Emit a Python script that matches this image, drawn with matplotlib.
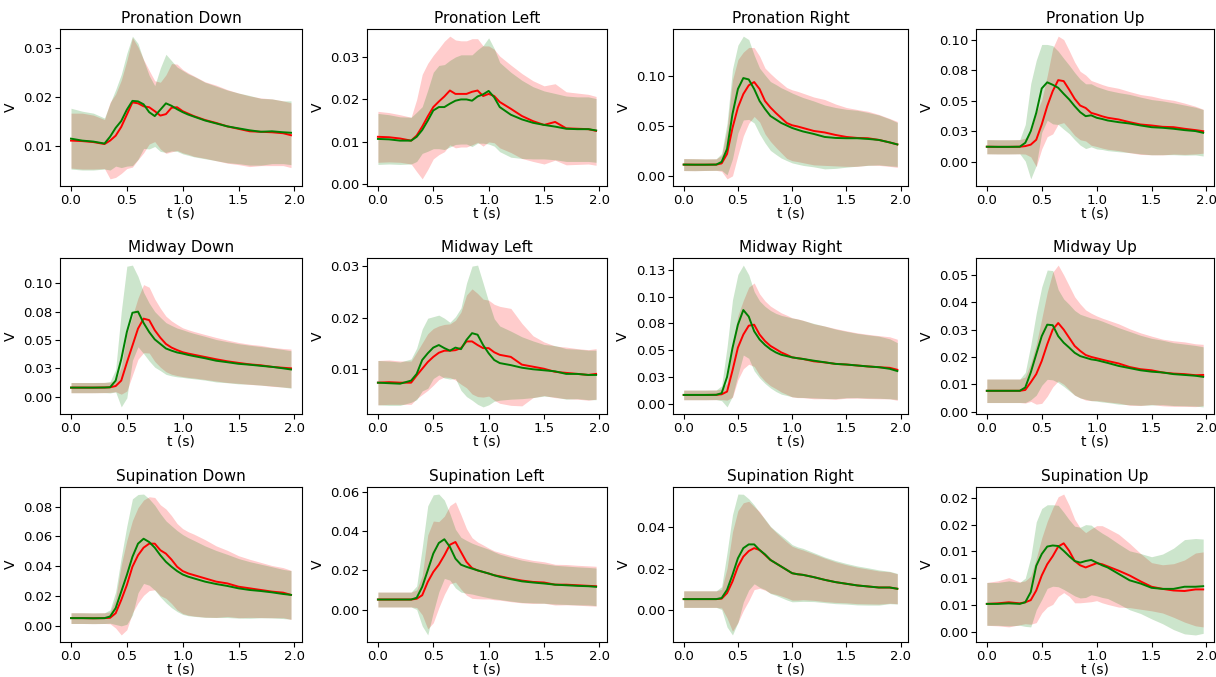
import numpy as np
import matplotlib
matplotlib.use("Agg")
import matplotlib.pyplot as plt
from matplotlib.ticker import FormatStrFormatter, MaxNLocator

# time grid (s) at which the curves were read
t = np.array([0.0, 0.1, 0.2, 0.3, 0.35, 0.4, 0.45, 0.5, 0.55, 0.6, 0.65, 0.7, 0.75, 0.8,
              0.85, 0.9, 0.95, 1.0, 1.05, 1.1, 1.2, 1.3, 1.4, 1.5, 1.6, 1.7, 1.8, 1.9, 1.97])

titles = ["Pronation Down", "Pronation Left", "Pronation Right", "Pronation Up",
          "Midway Down", "Midway Left", "Midway Right", "Midway Up",
          "Supination Down", "Supination Left", "Supination Right", "Supination Up"]

# --- Pronation Down
pd_red_m = [0.0112, 0.0111, 0.0109, 0.0105, 0.0112, 0.0122, 0.0140, 0.0165, 0.0190, 0.0188, 0.0182, 0.0180, 0.0172, 0.0163, 0.0166, 0.0179, 0.0180, 0.0172, 0.0167, 0.0162, 0.0154, 0.0148, 0.0141, 0.0136, 0.0131, 0.0130, 0.0129, 0.0127, 0.0123]
pd_red_s = [0.0056, 0.0057, 0.0055, 0.0050, 0.0078, 0.0085, 0.0095, 0.0110, 0.0132, 0.0115, 0.0095, 0.0075, 0.0062, 0.0068, 0.0080, 0.0090, 0.0088, 0.0085, 0.0083, 0.0082, 0.0078, 0.0077, 0.0075, 0.0073, 0.0072, 0.0069, 0.0068, 0.0066, 0.0066]
pd_grn_m = [0.0116, 0.0112, 0.0110, 0.0106, 0.0120, 0.0138, 0.0152, 0.0175, 0.0193, 0.0192, 0.0186, 0.0170, 0.0162, 0.0175, 0.0188, 0.0183, 0.0176, 0.0170, 0.0165, 0.0161, 0.0153, 0.0147, 0.0141, 0.0137, 0.0133, 0.0130, 0.0131, 0.0129, 0.0128]
pd_grn_s = [0.0062, 0.0060, 0.0058, 0.0052, 0.0068, 0.0078, 0.0095, 0.0115, 0.0132, 0.0118, 0.0090, 0.0075, 0.0062, 0.0085, 0.0100, 0.0092, 0.0086, 0.0085, 0.0083, 0.0082, 0.0078, 0.0076, 0.0074, 0.0072, 0.0071, 0.0068, 0.0066, 0.0064, 0.0065]

# --- Pronation Left
pl_red_m = [0.0112, 0.0111, 0.0108, 0.0103, 0.0115, 0.0136, 0.0160, 0.0182, 0.0195, 0.0207, 0.0221, 0.0213, 0.0213, 0.0213, 0.0218, 0.0221, 0.0208, 0.0213, 0.0208, 0.0194, 0.0178, 0.0161, 0.0149, 0.0140, 0.0147, 0.0132, 0.0131, 0.0130, 0.0126]
pl_red_s = [0.0060, 0.0058, 0.0056, 0.0055, 0.0085, 0.0123, 0.0125, 0.0122, 0.0125, 0.0130, 0.0128, 0.0127, 0.0125, 0.0125, 0.0125, 0.0122, 0.0118, 0.0113, 0.0110, 0.0108, 0.0103, 0.0100, 0.0095, 0.0092, 0.0090, 0.0086, 0.0084, 0.0082, 0.0081]
pl_grn_m = [0.0107, 0.0106, 0.0103, 0.0103, 0.0112, 0.0128, 0.0150, 0.0174, 0.0182, 0.0182, 0.0190, 0.0197, 0.0200, 0.0200, 0.0197, 0.0207, 0.0212, 0.0220, 0.0205, 0.0182, 0.0164, 0.0153, 0.0145, 0.0140, 0.0136, 0.0131, 0.0130, 0.0130, 0.0127]
pl_grn_s = [0.0060, 0.0058, 0.0056, 0.0055, 0.0058, 0.0055, 0.0072, 0.0090, 0.0098, 0.0100, 0.0102, 0.0103, 0.0105, 0.0105, 0.0108, 0.0110, 0.0115, 0.0125, 0.0115, 0.0105, 0.0100, 0.0092, 0.0085, 0.0080, 0.0078, 0.0077, 0.0076, 0.0076, 0.0075]

# --- Pronation Right
pr_red_m = [0.0113, 0.0112, 0.0112, 0.0113, 0.0125, 0.0220, 0.0480, 0.0685, 0.0820, 0.0907, 0.0940, 0.0870, 0.0750, 0.0685, 0.0630, 0.0580, 0.0530, 0.0507, 0.0495, 0.0480, 0.0450, 0.0435, 0.0410, 0.0390, 0.0380, 0.0377, 0.0360, 0.0335, 0.0315]
pr_red_s = [0.0060, 0.0060, 0.0058, 0.0058, 0.0080, 0.0250, 0.0480, 0.0480, 0.0420, 0.0380, 0.0345, 0.0330, 0.0330, 0.0340, 0.0345, 0.0350, 0.0355, 0.0355, 0.0352, 0.0348, 0.0340, 0.0330, 0.0310, 0.0295, 0.0285, 0.0270, 0.0255, 0.0240, 0.0230]
pr_grn_m = [0.0113, 0.0112, 0.0112, 0.0113, 0.0140, 0.0270, 0.0620, 0.0870, 0.0980, 0.0966, 0.0870, 0.0750, 0.0670, 0.0600, 0.0565, 0.0530, 0.0505, 0.0480, 0.0462, 0.0445, 0.0420, 0.0390, 0.0380, 0.0377, 0.0377, 0.0370, 0.0360, 0.0335, 0.0315]
pr_grn_s = [0.0060, 0.0060, 0.0058, 0.0058, 0.0085, 0.0260, 0.0450, 0.0440, 0.0420, 0.0400, 0.0340, 0.0330, 0.0340, 0.0345, 0.0350, 0.0352, 0.0352, 0.0350, 0.0345, 0.0340, 0.0330, 0.0320, 0.0305, 0.0290, 0.0280, 0.0265, 0.0250, 0.0235, 0.0220]

# --- Pronation Up
pu_red_m = [0.0123, 0.0122, 0.0122, 0.0123, 0.0128, 0.0140, 0.0180, 0.0305, 0.0455, 0.0578, 0.0668, 0.0660, 0.0590, 0.0515, 0.0460, 0.0440, 0.0400, 0.0387, 0.0372, 0.0360, 0.0346, 0.0324, 0.0305, 0.0297, 0.0286, 0.0283, 0.0270, 0.0259, 0.0250]
pu_red_s = [0.0058, 0.0058, 0.0058, 0.0058, 0.0065, 0.0100, 0.0220, 0.0200, 0.0250, 0.0350, 0.0360, 0.0340, 0.0320, 0.0300, 0.0280, 0.0270, 0.0265, 0.0262, 0.0260, 0.0258, 0.0255, 0.0250, 0.0245, 0.0240, 0.0230, 0.0220, 0.0210, 0.0195, 0.0180]
pu_grn_m = [0.0123, 0.0122, 0.0122, 0.0123, 0.0155, 0.0250, 0.0400, 0.0600, 0.0650, 0.0630, 0.0605, 0.0556, 0.0510, 0.0455, 0.0406, 0.0373, 0.0380, 0.0360, 0.0350, 0.0338, 0.0324, 0.0313, 0.0297, 0.0283, 0.0278, 0.0270, 0.0259, 0.0251, 0.0237]
pu_grn_s = [0.0058, 0.0058, 0.0058, 0.0058, 0.0150, 0.0390, 0.0430, 0.0360, 0.0310, 0.0320, 0.0300, 0.0290, 0.0280, 0.0275, 0.0270, 0.0265, 0.0258, 0.0255, 0.0250, 0.0247, 0.0242, 0.0238, 0.0232, 0.0226, 0.0220, 0.0212, 0.0205, 0.0195, 0.0190]

# --- Midway Down
md_red_m = [0.0080, 0.0080, 0.0080, 0.0081, 0.0083, 0.0094, 0.0142, 0.0300, 0.0450, 0.0600, 0.0688, 0.0675, 0.0586, 0.0520, 0.0465, 0.0433, 0.0411, 0.0392, 0.0380, 0.0370, 0.0350, 0.0330, 0.0312, 0.0298, 0.0285, 0.0277, 0.0263, 0.0255, 0.0250]
md_red_s = [0.0045, 0.0045, 0.0045, 0.0045, 0.0045, 0.0050, 0.0120, 0.0250, 0.0260, 0.0270, 0.0300, 0.0290, 0.0275, 0.0260, 0.0245, 0.0235, 0.0225, 0.0215, 0.0210, 0.0205, 0.0198, 0.0192, 0.0187, 0.0180, 0.0177, 0.0175, 0.0172, 0.0170, 0.0170]
md_grn_m = [0.0080, 0.0080, 0.0080, 0.0081, 0.0083, 0.0142, 0.0330, 0.0570, 0.0740, 0.0750, 0.0650, 0.0570, 0.0505, 0.0465, 0.0425, 0.0406, 0.0390, 0.0380, 0.0368, 0.0358, 0.0339, 0.0317, 0.0304, 0.0290, 0.0282, 0.0272, 0.0263, 0.0250, 0.0240]
md_grn_s = [0.0045, 0.0045, 0.0045, 0.0045, 0.0050, 0.0100, 0.0420, 0.0580, 0.0420, 0.0310, 0.0270, 0.0255, 0.0245, 0.0235, 0.0228, 0.0222, 0.0215, 0.0210, 0.0205, 0.0200, 0.0193, 0.0187, 0.0181, 0.0177, 0.0172, 0.0170, 0.0168, 0.0166, 0.0165]

# --- Midway Left
ml_red_m = [0.0074, 0.0075, 0.0074, 0.0074, 0.0088, 0.0101, 0.0114, 0.0124, 0.0132, 0.0136, 0.0136, 0.0137, 0.0141, 0.0154, 0.0154, 0.0147, 0.0141, 0.0141, 0.0133, 0.0128, 0.0124, 0.0109, 0.0105, 0.0101, 0.0095, 0.0093, 0.0091, 0.0089, 0.0091]
ml_red_s = [0.0043, 0.0043, 0.0042, 0.0042, 0.0045, 0.0050, 0.0055, 0.0055, 0.0052, 0.0051, 0.0052, 0.0058, 0.0070, 0.0090, 0.0102, 0.0100, 0.0095, 0.0093, 0.0093, 0.0094, 0.0094, 0.0080, 0.0060, 0.0052, 0.0050, 0.0050, 0.0049, 0.0049, 0.0049]
ml_grn_m = [0.0074, 0.0073, 0.0072, 0.0078, 0.0091, 0.0118, 0.0131, 0.0142, 0.0147, 0.0141, 0.0136, 0.0142, 0.0139, 0.0157, 0.0170, 0.0167, 0.0147, 0.0131, 0.0118, 0.0112, 0.0108, 0.0103, 0.0100, 0.0098, 0.0096, 0.0091, 0.0091, 0.0089, 0.0089]
ml_grn_s = [0.0043, 0.0043, 0.0042, 0.0042, 0.0050, 0.0060, 0.0068, 0.0060, 0.0058, 0.0058, 0.0055, 0.0060, 0.0080, 0.0110, 0.0130, 0.0135, 0.0120, 0.0100, 0.0080, 0.0072, 0.0066, 0.0060, 0.0055, 0.0050, 0.0050, 0.0049, 0.0048, 0.0048, 0.0048]

# --- Midway Right
mr_red_m = [0.0082, 0.0082, 0.0082, 0.0083, 0.0088, 0.0113, 0.0310, 0.0524, 0.0646, 0.0729, 0.0738, 0.0646, 0.0585, 0.0540, 0.0510, 0.0479, 0.0457, 0.0433, 0.0425, 0.0418, 0.0396, 0.0386, 0.0372, 0.0366, 0.0357, 0.0348, 0.0341, 0.0335, 0.0317]
mr_red_s = [0.0045, 0.0045, 0.0045, 0.0045, 0.0050, 0.0080, 0.0250, 0.0300, 0.0320, 0.0360, 0.0390, 0.0380, 0.0375, 0.0372, 0.0370, 0.0370, 0.0370, 0.0370, 0.0368, 0.0362, 0.0350, 0.0340, 0.0330, 0.0315, 0.0305, 0.0300, 0.0295, 0.0290, 0.0285]
mr_grn_m = [0.0082, 0.0082, 0.0082, 0.0083, 0.0098, 0.0250, 0.0520, 0.0738, 0.0875, 0.0814, 0.0677, 0.0600, 0.0549, 0.0509, 0.0479, 0.0457, 0.0445, 0.0433, 0.0425, 0.0418, 0.0402, 0.0387, 0.0372, 0.0366, 0.0357, 0.0348, 0.0341, 0.0326, 0.0305]
mr_grn_s = [0.0045, 0.0045, 0.0045, 0.0045, 0.0070, 0.0280, 0.0450, 0.0470, 0.0420, 0.0390, 0.0370, 0.0360, 0.0360, 0.0362, 0.0365, 0.0368, 0.0368, 0.0368, 0.0366, 0.0360, 0.0348, 0.0338, 0.0325, 0.0310, 0.0300, 0.0295, 0.0290, 0.0280, 0.0265]

# --- Midway Up
mu_red_m = [0.0076, 0.0076, 0.0076, 0.0076, 0.0079, 0.0107, 0.0137, 0.0185, 0.0246, 0.0300, 0.0324, 0.0300, 0.0270, 0.0240, 0.0222, 0.0207, 0.0200, 0.0195, 0.0190, 0.0185, 0.0176, 0.0163, 0.0155, 0.0151, 0.0143, 0.0139, 0.0137, 0.0133, 0.0134]
mu_red_s = [0.0043, 0.0043, 0.0043, 0.0043, 0.0048, 0.0070, 0.0110, 0.0155, 0.0190, 0.0210, 0.0212, 0.0200, 0.0190, 0.0180, 0.0172, 0.0165, 0.0160, 0.0155, 0.0152, 0.0150, 0.0145, 0.0140, 0.0133, 0.0125, 0.0122, 0.0120, 0.0118, 0.0115, 0.0112]
mu_grn_m = [0.0076, 0.0076, 0.0076, 0.0076, 0.0088, 0.0143, 0.0210, 0.0276, 0.0318, 0.0316, 0.0276, 0.0252, 0.0234, 0.0215, 0.0203, 0.0197, 0.0191, 0.0188, 0.0183, 0.0178, 0.0167, 0.0159, 0.0151, 0.0146, 0.0143, 0.0137, 0.0134, 0.0131, 0.0127]
mu_grn_s = [0.0043, 0.0043, 0.0043, 0.0043, 0.0055, 0.0100, 0.0150, 0.0180, 0.0200, 0.0200, 0.0170, 0.0160, 0.0158, 0.0155, 0.0153, 0.0152, 0.0151, 0.0150, 0.0148, 0.0145, 0.0140, 0.0134, 0.0128, 0.0122, 0.0118, 0.0115, 0.0113, 0.0111, 0.0110]

# --- Supination Down
sd_red_m = [0.0051, 0.0051, 0.0050, 0.0051, 0.0053, 0.0084, 0.0173, 0.0273, 0.0396, 0.0473, 0.0524, 0.0551, 0.0551, 0.0507, 0.0484, 0.0444, 0.0396, 0.0367, 0.0351, 0.0340, 0.0318, 0.0296, 0.0284, 0.0262, 0.0251, 0.0240, 0.0229, 0.0222, 0.0207]
sd_red_s = [0.0036, 0.0036, 0.0036, 0.0036, 0.0040, 0.0100, 0.0235, 0.0300, 0.0310, 0.0320, 0.0320, 0.0315, 0.0310, 0.0305, 0.0300, 0.0295, 0.0290, 0.0285, 0.0280, 0.0275, 0.0260, 0.0240, 0.0222, 0.0208, 0.0195, 0.0185, 0.0175, 0.0168, 0.0165]
sd_grn_m = [0.0051, 0.0051, 0.0050, 0.0051, 0.0062, 0.0118, 0.0229, 0.0340, 0.0462, 0.0551, 0.0584, 0.0562, 0.0524, 0.0473, 0.0429, 0.0396, 0.0367, 0.0344, 0.0329, 0.0318, 0.0296, 0.0280, 0.0267, 0.0251, 0.0240, 0.0233, 0.0224, 0.0213, 0.0207]
sd_grn_s = [0.0036, 0.0036, 0.0036, 0.0036, 0.0045, 0.0110, 0.0230, 0.0330, 0.0390, 0.0330, 0.0300, 0.0290, 0.0285, 0.0280, 0.0275, 0.0275, 0.0272, 0.0268, 0.0262, 0.0255, 0.0240, 0.0225, 0.0212, 0.0200, 0.0190, 0.0180, 0.0172, 0.0165, 0.0163]

# --- Supination Left
sl_red_m = [0.0051, 0.0051, 0.0051, 0.0051, 0.0055, 0.0073, 0.0141, 0.0192, 0.0229, 0.0277, 0.0331, 0.0345, 0.0294, 0.0243, 0.0212, 0.0200, 0.0192, 0.0184, 0.0175, 0.0170, 0.0158, 0.0148, 0.0141, 0.0138, 0.0127, 0.0127, 0.0124, 0.0121, 0.0119]
sl_red_s = [0.0038, 0.0038, 0.0038, 0.0038, 0.0045, 0.0100, 0.0240, 0.0260, 0.0220, 0.0200, 0.0200, 0.0205, 0.0190, 0.0170, 0.0155, 0.0145, 0.0138, 0.0130, 0.0125, 0.0122, 0.0118, 0.0114, 0.0110, 0.0106, 0.0104, 0.0103, 0.0102, 0.0102, 0.0102]
sl_grn_m = [0.0051, 0.0051, 0.0051, 0.0051, 0.0060, 0.0116, 0.0200, 0.0286, 0.0340, 0.0359, 0.0320, 0.0260, 0.0229, 0.0218, 0.0209, 0.0200, 0.0192, 0.0184, 0.0175, 0.0167, 0.0155, 0.0144, 0.0138, 0.0133, 0.0127, 0.0124, 0.0121, 0.0119, 0.0116]
sl_grn_s = [0.0038, 0.0038, 0.0038, 0.0038, 0.0060, 0.0200, 0.0330, 0.0300, 0.0250, 0.0200, 0.0170, 0.0150, 0.0140, 0.0135, 0.0130, 0.0128, 0.0126, 0.0124, 0.0120, 0.0116, 0.0112, 0.0108, 0.0104, 0.0101, 0.0099, 0.0098, 0.0097, 0.0096, 0.0096]

# --- Supination Right
sr_red_m = [0.0054, 0.0054, 0.0054, 0.0054, 0.0056, 0.0083, 0.0139, 0.0211, 0.0259, 0.0286, 0.0300, 0.0291, 0.0267, 0.0243, 0.0227, 0.0211, 0.0195, 0.0179, 0.0174, 0.0171, 0.0160, 0.0147, 0.0136, 0.0128, 0.0120, 0.0115, 0.0110, 0.0110, 0.0104]
sr_red_s = [0.0040, 0.0040, 0.0040, 0.0040, 0.0045, 0.0120, 0.0240, 0.0270, 0.0260, 0.0240, 0.0200, 0.0185, 0.0170, 0.0160, 0.0150, 0.0142, 0.0135, 0.0130, 0.0125, 0.0120, 0.0112, 0.0105, 0.0098, 0.0092, 0.0088, 0.0084, 0.0080, 0.0076, 0.0072]
sr_grn_m = [0.0054, 0.0054, 0.0054, 0.0054, 0.0059, 0.0099, 0.0171, 0.0251, 0.0300, 0.0318, 0.0318, 0.0291, 0.0270, 0.0243, 0.0227, 0.0211, 0.0195, 0.0179, 0.0174, 0.0171, 0.0160, 0.0147, 0.0136, 0.0128, 0.0120, 0.0115, 0.0110, 0.0110, 0.0104]
sr_grn_s = [0.0040, 0.0040, 0.0040, 0.0040, 0.0055, 0.0180, 0.0290, 0.0310, 0.0260, 0.0220, 0.0190, 0.0180, 0.0170, 0.0162, 0.0155, 0.0150, 0.0145, 0.0138, 0.0132, 0.0128, 0.0118, 0.0110, 0.0104, 0.0098, 0.0094, 0.0090, 0.0085, 0.0078, 0.0074]

# --- Supination Up
su_red_m = [0.0052, 0.0053, 0.0055, 0.0053, 0.0055, 0.0059, 0.0077, 0.0105, 0.0126, 0.0141, 0.0159, 0.0165, 0.0151, 0.0132, 0.0124, 0.0120, 0.0124, 0.0128, 0.0126, 0.0122, 0.0114, 0.0105, 0.0094, 0.0084, 0.0080, 0.0077, 0.0076, 0.0079, 0.0079]
su_red_s = [0.0040, 0.0042, 0.0046, 0.0040, 0.0040, 0.0045, 0.0060, 0.0070, 0.0080, 0.0090, 0.0093, 0.0092, 0.0085, 0.0078, 0.0070, 0.0065, 0.0068, 0.0070, 0.0072, 0.0071, 0.0068, 0.0060, 0.0052, 0.0045, 0.0045, 0.0050, 0.0058, 0.0068, 0.0070]
su_grn_m = [0.0052, 0.0052, 0.0053, 0.0052, 0.0055, 0.0074, 0.0123, 0.0145, 0.0159, 0.0161, 0.0160, 0.0151, 0.0141, 0.0132, 0.0129, 0.0132, 0.0134, 0.0129, 0.0124, 0.0120, 0.0108, 0.0096, 0.0090, 0.0082, 0.0080, 0.0080, 0.0084, 0.0084, 0.0085]
su_grn_s = [0.0040, 0.0040, 0.0042, 0.0040, 0.0045, 0.0065, 0.0082, 0.0085, 0.0078, 0.0076, 0.0076, 0.0072, 0.0068, 0.0065, 0.0066, 0.0068, 0.0065, 0.0062, 0.0060, 0.0058, 0.0056, 0.0055, 0.0056, 0.0058, 0.0065, 0.0076, 0.0088, 0.0090, 0.0088]

panels = [
    (pd_red_m, pd_red_s, pd_grn_m, pd_grn_s),
    (pl_red_m, pl_red_s, pl_grn_m, pl_grn_s),
    (pr_red_m, pr_red_s, pr_grn_m, pr_grn_s),
    (pu_red_m, pu_red_s, pu_grn_m, pu_grn_s),
    (md_red_m, md_red_s, md_grn_m, md_grn_s),
    (ml_red_m, ml_red_s, ml_grn_m, ml_grn_s),
    (mr_red_m, mr_red_s, mr_grn_m, mr_grn_s),
    (mu_red_m, mu_red_s, mu_grn_m, mu_grn_s),
    (sd_red_m, sd_red_s, sd_grn_m, sd_grn_s),
    (sl_red_m, sl_red_s, sl_grn_m, sl_grn_s),
    (sr_red_m, sr_red_s, sr_grn_m, sr_grn_s),
    (su_red_m, su_red_s, su_grn_m, su_grn_s),
]

# layout in pixels (figure is 1216 x 677)
W, H = 1216, 677
col_left = [60, 367, 673, 976]
col_right = [302, 607, 908, 1214]
row_top = [29, 258, 487]
row_bot = [186, 414, 642]

fig = plt.figure(figsize=(W / 100, H / 100), dpi=100)

for k, (title, series) in enumerate(zip(titles, panels)):
    r, c = divmod(k, 4)
    ax = fig.add_axes([col_left[c] / W, 1 - row_bot[r] / H,
                       (col_right[c] - col_left[c]) / W, (row_bot[r] - row_top[r]) / H])
    rm, rs, gm, gs = (np.asarray(s) for s in series)

    ax.fill_between(t, rm - rs, rm + rs, color="red", alpha=0.2, linewidth=0)
    ax.fill_between(t, gm - gs, gm + gs, color="green", alpha=0.2, linewidth=0)
    ax.plot(t, rm, color="red", linewidth=1.4)
    ax.plot(t, gm, color="green", linewidth=1.4)

    ax.set_title(title, fontsize=11, pad=4)
    ax.set_xlabel("t (s)", fontsize=10, labelpad=0)
    ax.set_ylabel("V", fontsize=10)
    ax.set_xticks([0.0, 0.5, 1.0, 1.5, 2.0])
    ax.yaxis.set_major_locator(MaxNLocator(nbins=6, steps=[1, 2, 2.5, 5, 10]))
    ax.yaxis.set_major_formatter(FormatStrFormatter("%.2f"))
    ax.tick_params(labelsize=9.5, pad=2)

fig.savefig("out.png", dpi=100)
